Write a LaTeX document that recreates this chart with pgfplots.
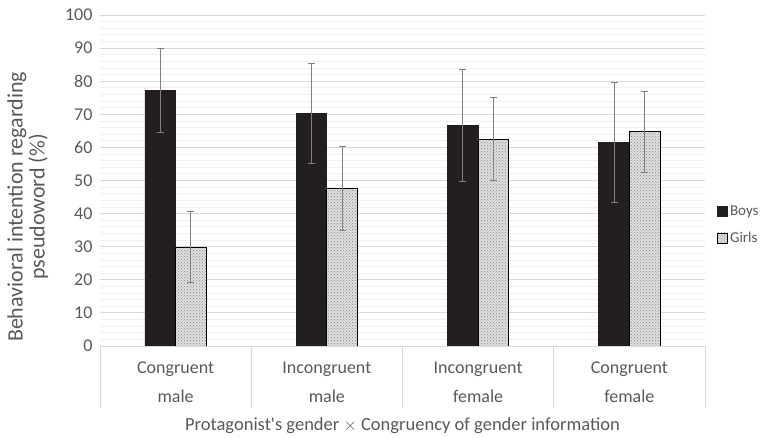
\documentclass[border=0pt]{standalone}
\usepackage{pgfplots}
\pgfplotsset{compat=1.18}
\usepackage{fontspec}
\setmainfont{Carlito}
\usetikzlibrary{patterns}
\definecolor{txtgray}{HTML}{595959}
\definecolor{boysfill}{HTML}{231F20}
\definecolor{errgray}{HTML}{7F7F7F}
\definecolor{majgrid}{HTML}{D9D9D9}
\definecolor{mingrid}{HTML}{F0F0F0}

\begin{document}
\begin{tikzpicture}
\path[use as bounding box] (-100pt,-92pt) rectangle (661pt,346pt);
\begin{axis}[
  at={(0,0)}, anchor=south west,
  scale only axis,
  width=605pt, height=331pt,
  ybar=0pt,
  bar width=30.7pt,
  ymin=0, ymax=100,
  xmin=-0.5, xmax=3.5,
  xtick={0,1,2,3},
  xtick pos=lower,
  xticklabels={Congruent\\male, Incongruent\\male, Incongruent\\female, Congruent\\female},
  xticklabel style={align=center, font=\fontsize{18}{29}\selectfont, text=txtgray, yshift=-12pt},
  ytick={0,10,...,100},
  minor y tick num=4,
  ymajorgrids, yminorgrids,
  major grid style={majgrid, line width=0.8pt},
  minor grid style={mingrid, line width=0.8pt},
  major tick length=0pt, minor tick length=0pt,
  axis line style={draw=none},
  yticklabel style={font=\fontsize{18}{22}\selectfont, text=txtgray, xshift=-4pt},
  /pgf/number format/assume math mode=true,
  extra x ticks={-0.5,0.5,1.5,2.5,3.5},
  extra x tick labels={},
  extra x tick style={major tick length=62pt, tick align=outside, tick pos=lower, tick style={majgrid, line width=0.8pt}, grid=none},
  ylabel={Behavioral intention regarding\\pseudoword (\%)},
  ylabel style={align=center, font=\fontsize{22}{22}\selectfont, text=txtgray, at={(ticklabel cs:0.42)}, yshift=10pt},
  xlabel={Protagonist\textquotesingle s gender $\times$ Congruency of gender information},
  xlabel style={font=\fontsize{18.5}{22}\selectfont, text=txtgray, at={(axis description cs:0.5,0)}, anchor=center, yshift=-80pt},
  legend style={draw=none, at={(1.015,0.366)}, anchor=west,
    font=\fontsize{15}{29}\selectfont, text=txtgray,
    row sep=11pt, cells={anchor=west}},
  legend image code/.code={\draw[#1] (0pt,-5pt) rectangle (10pt,5pt);},
  error bars/y dir=both,
  error bars/y explicit,
  error bars/error mark options={rotate=90, mark size=3.5pt, errgray, line width=1pt},
  error bars/error bar style={errgray, line width=1pt},
]
\addplot[fill=boysfill, draw=boysfill, line width=0.8pt]
  coordinates {(0,77.2) +- (0,12.7) (1,70.2) +- (0,15.0) (2,66.6) +- (0,16.8) (3,61.5) +- (0,18.0)};
\addplot[fill=gray!25, draw=black, line width=0.8pt,
  postaction={pattern=crosshatch dots, pattern color=gray!95}]
  coordinates {(0,29.9) +- (0,10.7) (1,47.7) +- (0,12.7) (2,62.5) +- (0,12.6) (3,64.7) +- (0,12.3)};
\legend{Boys, Girls}
\end{axis}
\end{tikzpicture}
\end{document}
